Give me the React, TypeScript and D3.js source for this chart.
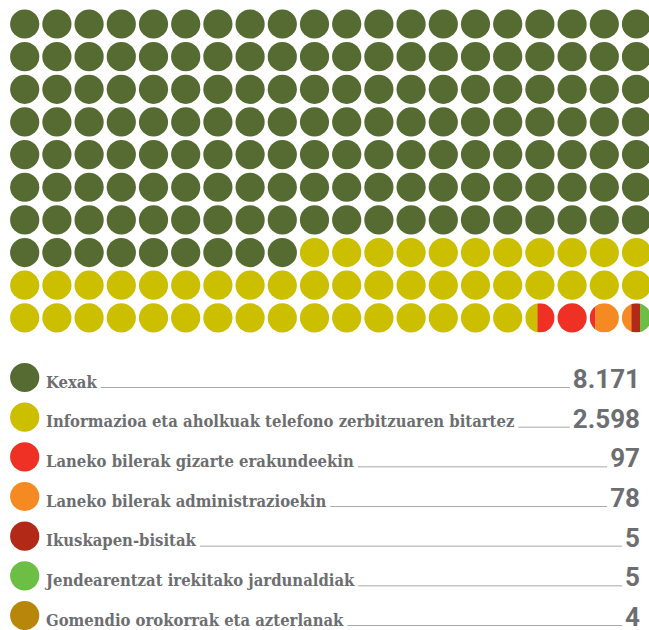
import React, { useEffect, useRef } from 'react';
import * as d3 from 'd3';

const categories = [
  "Kexak",
  "Informazioa eta aholkuak telefono zerbitzuaren bitartez",
  "Laneko bilerak gizarte erakundeekin",
  "Laneko bilerak administrazioekin",
  "Ikuskapen-bisitak",
  "Jendearentzat irekitako jardunaldiak",
  "Gomendio orokorrak eta azterlanak",
];
const values = [8171, 2598, 97, 78, 5, 5, 4];
const valueLabels = ["8.171", "2.598", "97", "78", "5", "5", "4"];
const colors = ["#566b31", "#cbbf00", "#ee3124", "#f58a22", "#b22a17", "#6cbf44", "#b8860b"];

const W = 649, H = 630;
const COLS = 20, ROWS = 10;
const R = 14.6;
const MIN_TINY = 0.3;
const TEXT = "#6d6e71";

export default function App() {
  const ref = useRef<SVGSVGElement>(null);
  useEffect(() => {
    const svg = d3.select(ref.current);
    svg.selectAll('*').remove();
    const N = COLS * ROWS;
    const total = d3.sum(values);
    const unitScale = d3.scaleLinear().domain([0, total]).range([0, N]);
    const units = values.map(v => unitScale(v));
    const segs: { i: number; start: number; end: number }[] = [];
    // first category snapped to whole circles, the rest proportional
    let pos = 0;
    units.forEach((u, i) => {
      const w = i === 0 ? Math.round(u) : u;
      segs.push({ i, start: pos, end: pos + w });
      pos += w;
    });
    const tiny = units.map((u, i) => (u < 1 ? i : -1)).filter(i => i >= 0);
    let end = N;
    for (let k = tiny.length - 1; k >= 0; k--) {
      const i = tiny[k];
      const w = k === tiny.length - 1 ? units[i] : Math.max(units[i], MIN_TINY);
      segs[i].end = end; segs[i].start = end - w; end -= w;
    }
    if (tiny.length) segs[tiny[0] - 1].end = end;

    const x = d3.scaleLinear().domain([0, COLS - 1]).range([24.7, 24.7 + 19 * 32.2]);
    const y = d3.scaleLinear().domain([0, ROWS - 1]).range([24, 24 + 9 * 32.65]);
    const defs = svg.append('defs');
    const g = svg.append('g');
    for (let c = 0; c < N; c++) {
      const col = c % COLS, row = Math.floor(c / COLS);
      const cx = x(col), cy = y(row);
      const parts = segs.filter(s => s.end > c + 1e-6 && s.start < c + 1 - 1e-6);
      if (parts.length === 1) {
        g.append('circle').attr('cx', cx).attr('cy', cy).attr('r', R).attr('fill', colors[parts[0].i]);
      } else {
        const id = 'clip' + c;
        defs.append('clipPath').attr('id', id).append('circle').attr('cx', cx).attr('cy', cy).attr('r', R);
        const gg = g.append('g').attr('clip-path', `url(#${id})`);
        parts.forEach(s => {
          const a = Math.max(s.start, c) - c, b = Math.min(s.end, c + 1) - c;
          gg.append('rect').attr('x', cx - R + a * 2 * R).attr('y', cy - R)
            .attr('width', (b - a) * 2 * R + 0.3).attr('height', 2 * R).attr('fill', colors[s.i]);
        });
      }
    }

    const ly = d3.scaleLinear().domain([0, categories.length - 1]).range([377.5, 615.5]);
    const lg = svg.append('g');
    categories.forEach((name, i) => {
      const cy = ly(i);
      lg.append('circle').attr('cx', 24.7).attr('cy', cy).attr('r', R).attr('fill', colors[i]);
      const t = lg.append('text').attr('x', 46).attr('y', cy + 10).text(name)
        .attr('font-family', "'DejaVu Serif Condensed', 'DejaVu Serif', serif")
        .attr('font-weight', 700).attr('font-size', 16.5).attr('fill', TEXT);
      const n = lg.append('text').attr('x', 640).attr('y', cy + 10.5).attr('text-anchor', 'end').text(valueLabels[i])
        .attr('font-family', 'Roboto, sans-serif').attr('font-weight', 700).attr('font-size', 26).attr('fill', TEXT);
      const tw = (t.node() as SVGTextElement).getComputedTextLength();
      const nw = (n.node() as SVGTextElement).getComputedTextLength();
      lg.append('line').attr('x1', 46 + tw + 4).attr('x2', 640 - nw - 3)
        .attr('y1', cy + 10).attr('y2', cy + 10).attr('stroke', '#a7a8aa').attr('stroke-width', 1);
    });
  }, []);
  return (
    <svg ref={ref} width={W} height={H} style={{ position: 'absolute', left: 0, top: 0, background: '#fff' }} />
  );
}
